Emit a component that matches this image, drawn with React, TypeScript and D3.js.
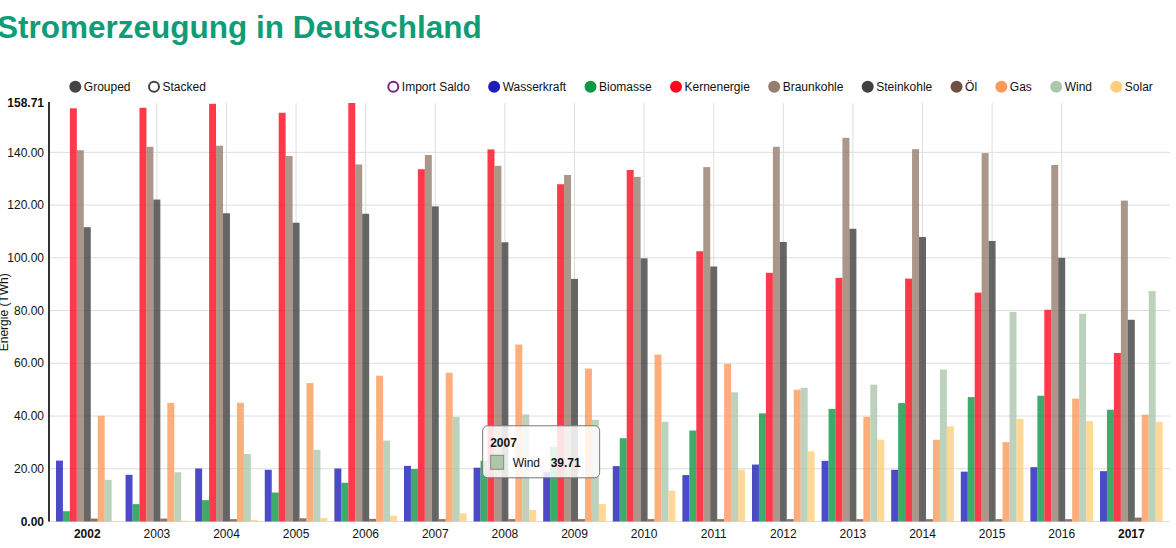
import { useEffect, useRef } from "react";
import * as d3 from "d3";

const years = ["2002", "2003", "2004", "2005", "2006", "2007", "2008", "2009", "2010", "2011", "2012", "2013", "2014", "2015", "2016", "2017"];
const highlightYears = ["2002", "2017"];

const wasserkraft = [23.1, 17.7, 20.1, 19.6, 20.1, 21.1, 20.4, 18.7, 21.0, 17.6, 21.6, 23.0, 19.6, 18.9, 20.6, 19.1];
const biomasse = [3.9, 6.6, 8.1, 11.0, 14.7, 19.9, 23.0, 28.3, 31.6, 34.5, 41.0, 42.7, 44.9, 47.2, 47.7, 42.4];
const kernenergie = [156.7, 156.9, 158.4, 155.0, 158.71, 133.6, 141.1, 127.9, 133.3, 102.5, 94.3, 92.4, 92.1, 86.8, 80.3, 63.9];
const braunkohle = [140.8, 142.1, 142.5, 138.6, 135.4, 139.0, 134.9, 131.4, 130.7, 134.4, 142.1, 145.5, 141.2, 139.7, 135.2, 121.7];
const steinkohle = [111.6, 122.1, 116.9, 113.3, 116.7, 119.5, 105.9, 92.0, 99.8, 96.7, 106.0, 111.0, 107.9, 106.4, 100.0, 76.5];
const oel = [1.1, 1.1, 0.9, 1.2, 1.0, 0.9, 0.9, 0.9, 0.9, 0.9, 0.9, 0.9, 0.9, 0.9, 0.9, 1.5];
const gas = [40.1, 45.0, 45.0, 52.5, 55.3, 56.4, 67.1, 58.0, 63.3, 59.8, 50.0, 39.7, 31.0, 30.1, 46.6, 40.5];
const wind = [15.8, 18.7, 25.6, 27.2, 30.7, 39.71, 40.6, 38.6, 37.8, 49.0, 50.7, 51.9, 57.6, 79.5, 78.8, 87.4];
const solar = [0.2, 0.3, 0.6, 1.3, 2.2, 3.1, 4.4, 6.6, 11.7, 19.7, 26.6, 31.0, 36.1, 38.9, 38.1, 37.8];

const series = [
  { name: "Import Saldo", color: "#7b2282", values: null as number[] | null, disabled: true },
  { name: "Wasserkraft", color: "#1e1ebb", values: wasserkraft, disabled: false },
  { name: "Biomasse", color: "#0f9646", values: biomasse, disabled: false },
  { name: "Kernenergie", color: "#fb091d", values: kernenergie, disabled: false },
  { name: "Braunkohle", color: "#967d6d", values: braunkohle, disabled: false },
  { name: "Steinkohle", color: "#404040", values: steinkohle, disabled: false },
  { name: "Öl", color: "#6f5040", values: oel, disabled: false },
  { name: "Gas", color: "#fc9a59", values: gas, disabled: false },
  { name: "Wind", color: "#adc7ab", values: wind, disabled: false },
  { name: "Solar", color: "#fece7c", values: solar, disabled: false },
];

const modes = [
  { name: "Grouped", active: true },
  { name: "Stacked", active: false },
];

const yTicks = [0, 20, 40, 60, 80, 100, 120, 140];
const tooltipYear = "2007";
const tooltipSeries = "Wind";

const W = 1176, H = 548;
const FONT = "'Liberation Sans', Arial, Helvetica, sans-serif";

export default function App() {
  const ref = useRef<SVGSVGElement>(null);

  useEffect(() => {
    if (!ref.current) return;
    const svg = d3.select(ref.current);
    svg.selectAll("*").remove();

    const left = 49, right = 1170, top = 103, bottom = 521.5;
    const active = series.filter((s) => !s.disabled);
    const maxVal = d3.max(active, (s) => d3.max(s.values!))!;

    const x0 = d3.scaleBand().domain(years).range([left, right - 0.4]).paddingInner(0.1).paddingOuter(0.1);
    const x1 = d3.scaleBand().domain(active.map((s) => s.name)).range([0, x0.bandwidth()]);
    const y = d3.scaleLinear().domain([0, maxVal]).range([bottom, top]);

    // title (cut at the left edge, like the original page)
    svg.append("text").attr("x", -3).attr("y", 38)
      .style("font-family", FONT).style("font-size", "31.5px").style("font-weight", "bold")
      .style("fill", "#0f9c77").text("Stromerzeugung in Deutschland");

    // grid
    const grid = svg.append("g");
    grid.selectAll("line.h").data(yTicks).enter().append("line")
      .attr("x1", left).attr("x2", right).attr("y1", (d) => y(d)).attr("y2", (d) => y(d))
      .attr("stroke", "#dedede").attr("stroke-width", 1);
    grid.selectAll("line.v").data(years.filter((yr) => !highlightYears.includes(yr))).enter().append("line")
      .attr("x1", (d) => x0(d)! + x0.bandwidth() / 2).attr("x2", (d) => x0(d)! + x0.bandwidth() / 2)
      .attr("y1", top).attr("y2", bottom)
      .attr("stroke", "#dedede").attr("stroke-width", 1);

    // bars
    const groups = svg.append("g").selectAll("g").data(years).enter().append("g")
      .attr("transform", (d) => `translate(${x0(d)},0)`);
    groups.selectAll("rect").data((_, i) => active.map((s) => ({ s, v: s.values![i] })))
      .enter().append("rect")
      .attr("x", (d) => x1(d.s.name)!).attr("width", x1.bandwidth())
      .attr("y", (d) => y(d.v)).attr("height", (d) => bottom - y(d.v))
      .attr("fill", (d) => d.s.color).attr("fill-opacity", 0.8);

    // y axis
    const ya = svg.append("g");
    ya.append("line").attr("x1", left).attr("x2", left).attr("y1", top - 1).attr("y2", bottom)
      .attr("stroke", "#333").attr("stroke-width", 2);
    const allTicks = [...yTicks, maxVal];
    ya.selectAll("text").data(allTicks).enter().append("text")
      .attr("x", left - 5).attr("y", (d) => y(d)).attr("dy", "0.35em").attr("text-anchor", "end")
      .style("font-family", FONT).style("font-size", "12px")
      .style("font-weight", (d) => (d === 0 || d === maxVal ? "bold" : "normal"))
      .style("fill", "#111").text((d) => d3.format(".2f")(d));
    svg.append("text").attr("transform", `translate(8,${(top + bottom) / 2}) rotate(-90)`)
      .attr("text-anchor", "middle")
      .style("font-family", FONT).style("font-size", "12px").style("fill", "#111")
      .text("Energie (TWh)");

    // x labels
    svg.append("g").selectAll("text").data(years).enter().append("text")
      .attr("x", (d) => x0(d)! + x0.bandwidth() / 2).attr("y", 538).attr("text-anchor", "middle")
      .style("font-family", FONT).style("font-size", "12px")
      .style("font-weight", (d) => (highlightYears.includes(d) ? "bold" : "normal"))
      .style("fill", "#111").text((d) => d);

    // legends
    const legY = 86.7, r = 5.5;
    const drawLegend = (items: { name: string; color: string; filled: boolean }[], startCx: number, gap: number) => {
      let cx = startCx;
      const g = svg.append("g");
      items.forEach((it) => {
        g.append("circle").attr("cx", cx).attr("cy", legY).attr("r", it.filled ? r + 0.5 : r - 0.5)
          .attr("fill", it.filled ? it.color : "#fff").attr("stroke", it.color)
          .attr("stroke-width", it.filled ? 0 : 2);
        const t = g.append("text").attr("x", cx + 8.5).attr("y", legY + 4.2)
          .style("font-family", FONT).style("font-size", "12px").style("fill", "#111").text(it.name);
        const w = (t.node() as SVGTextElement).getComputedTextLength();
        cx = cx + 8.5 + w + gap;
      });
    };
    drawLegend(modes.map((m) => ({ name: m.name, color: "#444", filled: m.active })), 75.3, 23.5);
    drawLegend(series.map((s) => ({ name: s.name, color: s.color, filled: !s.disabled })), 393.3, 24.3);

    // tooltip
    const si = active.findIndex((s) => s.name === tooltipSeries);
    const yi = years.indexOf(tooltipYear);
    const ts = active[si];
    const tv = ts.values![yi];
    const bx = x0(tooltipYear)! + x1(ts.name)! + x1.bandwidth();
    const tx = bx + 23, ty = y(tv) + 9;
    const tip = svg.append("g").attr("transform", `translate(${tx},${ty})`);
    tip.append("rect").attr("x", 0).attr("y", 0).attr("width", 117).attr("height", 52).attr("rx", 5)
      .attr("fill", "#fff").attr("fill-opacity", 0.85).attr("stroke", "#777").attr("stroke-width", 1);
    tip.append("text").attr("x", 7.5).attr("y", 21)
      .style("font-family", FONT).style("font-size", "12px").style("font-weight", "bold").style("fill", "#111")
      .text(tooltipYear);
    tip.append("rect").attr("x", 8).attr("y", 29.5).attr("width", 13).attr("height", 14)
      .attr("fill", ts.color).attr("stroke", "#888").attr("stroke-width", 1);
    tip.append("text").attr("x", 30).attr("y", 41)
      .style("font-family", FONT).style("font-size", "12px").style("fill", "#111").text(ts.name);
    tip.append("text").attr("x", 68).attr("y", 41)
      .style("font-family", FONT).style("font-size", "12px").style("font-weight", "bold").style("fill", "#111")
      .text(d3.format(".2f")(tv));
  }, []);

  return (
    <svg ref={ref} width={W} height={H}
      style={{ position: "absolute", left: 0, top: 0, background: "#fff" }} />
  );
}
